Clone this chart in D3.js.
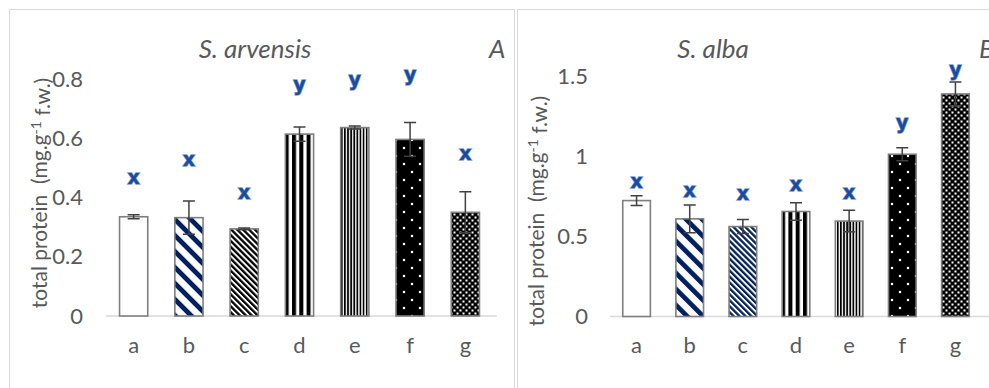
<!DOCTYPE html>
<html>
<head>
<meta charset="utf-8">
<script src="https://cdn.jsdelivr.net/npm/d3@7"></script>
<style>
  html, body { margin: 0; padding: 0; background: #fff; }
  svg { display: block; }
  text { font-family: Lato, "Open Sans", sans-serif; }
</style>
</head>
<body>
<svg id="chart" width="989" height="388"></svg>
<script>
// data
const categories = ["a", "b", "c", "d", "e", "f", "g"];

const arvensisMeans = [0.335, 0.332, 0.294, 0.614, 0.636, 0.596, 0.350];
const arvensisErrors = [0.007, 0.056, 0.003, 0.024, 0.005, 0.057, 0.069];
const arvensisLetters = ["x", "x", "x", "y", "y", "y", "x"];
const arvensisLetterAt = [0.466, 0.527, 0.415, 0.780, 0.797, 0.814, 0.547];
const arvensisTicks = [0, 0.2, 0.4, 0.6, 0.8];

const albaMeans = [0.723, 0.609, 0.561, 0.655, 0.595, 1.012, 1.388];
const albaErrors = [0.030, 0.087, 0.044, 0.054, 0.067, 0.040, 0.075];
const albaLetters = ["x", "x", "x", "x", "x", "y", "y"];
const albaLetterAt = [0.834, 0.780, 0.763, 0.821, 0.769, 1.206, 1.538];
const albaTicks = [0, 0.5, 1, 1.5];

const patternIds = ["pWhite", "pDiagWide", "pDiagNarrow", "pVertWide", "pVertNarrow", "pDotSparse", "pDotDense"];

const svg = d3.select("#chart");
const defs = svg.append("defs");
const navy = "#002060";
const grey = "#595959";
const gridGrey = "#d9d9d9";

// fill patterns
function stripePattern(id, period, thick, color, angle) {
  const p = defs.append("pattern").attr("id", id)
    .attr("patternUnits", "userSpaceOnUse")
    .attr("width", period).attr("height", period)
    .attr("patternTransform", "rotate(" + angle + ")");
  p.append("rect").attr("width", period).attr("height", period).attr("fill", "#fff");
  p.append("rect").attr("width", thick).attr("height", period).attr("fill", color);
}
function dotPattern(id, size, dot) {
  const p = defs.append("pattern").attr("id", id)
    .attr("patternUnits", "userSpaceOnUse")
    .attr("width", size).attr("height", size);
  p.append("rect").attr("width", size).attr("height", size).attr("fill", "#000");
  p.append("rect").attr("x", size / 4 - dot / 2).attr("y", size / 4 - dot / 2)
    .attr("width", dot).attr("height", dot).attr("fill", "#fff");
  p.append("rect").attr("x", 3 * size / 4 - dot / 2).attr("y", 3 * size / 4 - dot / 2)
    .attr("width", dot).attr("height", dot).attr("fill", "#fff");
}

function addPatterns(suffix, diagColor) {
  stripePattern("pDiagWide" + suffix, 11.3, 4.8, navy, -45);
  stripePattern("pDiagNarrow" + suffix, 4.2, 2.3, diagColor, -45);
  stripePattern("pVertWide" + suffix, 7.3, 4, "#000", 0);
  stripePattern("pVertNarrow" + suffix, 3.1, 1.7, "#000", 0);
  dotPattern("pDotSparse" + suffix, 16, 2.2);
  dotPattern("pDotDense" + suffix, 6, 2);
}
addPatterns("A", "#000");
addPatterns("B", navy);

// panel frames
svg.append("rect").attr("x", 9.5).attr("y", 9.5).attr("width", 505).attr("height", 400)
  .attr("fill", "none").attr("stroke", gridGrey);
svg.append("rect").attr("x", 517.5).attr("y", 9.5).attr("width", 480).attr("height", 400)
  .attr("fill", "none").attr("stroke", gridGrey);

function drawPanel(opt) {
  const g = svg.append("g");
  const x = d3.scaleBand().domain(categories)
    .range(opt.xRange).paddingInner(opt.pad).paddingOuter(opt.pad / 2);
  const y = d3.scaleLinear().domain([0, opt.ticks[opt.ticks.length - 1]]).range(opt.yRange);

  // y tick labels
  const yAxis = g.append("g")
    .attr("transform", "translate(" + opt.tickX + ",0)")
    .call(d3.axisLeft(y).tickValues(opt.ticks).tickSize(0).tickPadding(0)
      .tickFormat(d => d3.format("")(d)));
  yAxis.select(".domain").remove();
  yAxis.selectAll("text").attr("fill", grey).style("font-size", "22px")
    .style("font-family", "Lato, 'Open Sans', sans-serif");

  // x axis
  const xAxis = g.append("g")
    .attr("transform", "translate(0," + y(0) + ")")
    .call(d3.axisBottom(x).tickSize(0).tickPadding(21));
  xAxis.select(".domain").attr("stroke", gridGrey).attr("stroke-width", 1.5)
    .attr("d", "M" + (opt.xRange[0] - opt.axisExtra[0]) + ",0H" + (opt.xRange[1] + opt.axisExtra[1]));
  xAxis.selectAll("text").attr("fill", grey).style("font-size", "22px")
    .style("font-family", "Lato, 'Open Sans', sans-serif");

  // bars
  g.selectAll(".bar").data(opt.means).join("rect")
    .attr("class", "bar")
    .attr("x", (d, i) => x(categories[i]))
    .attr("y", d => y(d))
    .attr("width", x.bandwidth())
    .attr("height", d => y(0) - y(d))
    .attr("fill", (d, i) => i === 0 ? "#fff" : "url(#" + patternIds[i] + opt.suffix + ")")
    .attr("stroke", "#7f7f7f")
    .attr("stroke-width", 1.6);

  // error bars
  const cap = 6;
  const eb = g.selectAll(".err").data(opt.means).join("g").attr("class", "err")
    .attr("stroke", "#404040").attr("stroke-width", 1.5).attr("fill", "none");
  eb.append("path").attr("d", (d, i) => {
    const cx = x(categories[i]) + x.bandwidth() / 2;
    const hi = y(d + opt.errors[i]), lo = y(d - opt.errors[i]);
    return "M" + cx + "," + hi + "V" + lo +
      "M" + (cx - cap) + "," + hi + "H" + (cx + cap) +
      "M" + (cx - cap) + "," + lo + "H" + (cx + cap);
  });

  // significance letters
  g.selectAll(".sig").data(opt.letters).join("text")
    .attr("class", "sig")
    .attr("x", (d, i) => x(categories[i]) + x.bandwidth() / 2)
    .attr("y", (d, i) => y(opt.letterAt[i]))
    .attr("dy", "0.3em")
    .attr("text-anchor", "middle")
    .style("font-family", "'DejaVu Sans', sans-serif")
    .style("font-weight", "bold")
    .style("font-size", "19px")
    .attr("fill", "#1a4c9c")
    .attr("stroke", "#7d9fd6")
    .attr("stroke-width", 1.4)
    .style("paint-order", "stroke")
    .text(d => d);

  // title and panel letter
  g.append("text").attr("x", opt.titleX).attr("y", 58).attr("text-anchor", "middle")
    .attr("fill", grey).style("font-size", "26px").style("font-style", "italic")
    .text(opt.title);
  g.append("text").attr("x", opt.tagX).attr("y", 58)
    .attr("fill", grey).style("font-size", "26px").style("font-style", "italic")
    .text(opt.tag);

  // y axis title
  const yt = g.append("text")
    .attr("transform", "translate(" + opt.labelX + "," + opt.labelY + ") rotate(-90)")
    .attr("text-anchor", "middle").attr("fill", grey).style("font-size", "21px")
    .style("white-space", "pre");
  yt.append("tspan").text("total protein  (mg.g");
  yt.append("tspan").attr("dy", "-0.45em").style("font-size", "14px").text("-1");
  yt.append("tspan").attr("dy", "0.45em").text(" f.w.)");
}

drawPanel({
  suffix: "A", means: arvensisMeans, errors: arvensisErrors,
  letters: arvensisLetters, letterAt: arvensisLetterAt, ticks: arvensisTicks,
  xRange: [106, 493], yRange: [316, 79], pad: 0.49, axisExtra: [0, 4],
  tickX: 83, title: "S. arvensis", titleX: 255, tag: "A", tagX: 489,
  labelX: 47, labelY: 193
});
drawPanel({
  suffix: "B", means: albaMeans, errors: albaErrors,
  letters: albaLetters, letterAt: albaLetterAt, ticks: albaTicks,
  xRange: [610, 982], yRange: [316.5, 76], pad: 0.48, axisExtra: [0, 10],
  tickX: 588, title: "S. alba", titleX: 713, tag: "B", tagX: 979,
  labelX: 544, labelY: 211
});
</script>
</body>
</html>
